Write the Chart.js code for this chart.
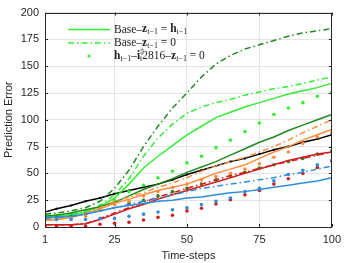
<!DOCTYPE html>
<html><head><meta charset="utf-8">
<script src="https://cdn.jsdelivr.net/npm/chart.js@4/dist/chart.umd.min.js"></script>
<style>html,body{margin:0;padding:0;background:#fff}#wrap{width:347px;height:263px}</style>
</head><body><div id="wrap"><canvas id="c" width="347" height="263"></canvas></div>
<script>
const steps = [1,5,10,15,20,25,30,35,40,45,50,55,60,65,70,75,80,85,90,95,100];
const xTicks = [1,25,50,75,100];
const blackSolid   = [14,17,20,24,27,31,34,37,40,44,49,53,57,61,64,68,72,75,79,82,86];
const dkGreenDash  = [12,13,15,18,24,36,53,75,94,111,125,140,152,160,166,170,174,178,181,183,185];
const brGreenDash  = [11,11,12,14,20,30,45,66,83,96,106,112,116,119,123,126,129,131,134,137,140];
const brGreenSolid = [9,10,11,14,19,27,40,55,66,76,86,94,102,107,112,116,120,124,127,130,134];
const brGreenDots  = [10,11,12,15,20,25,33,39,46,52,60,66,74,81,89,97,105,111,116,122,126];
const dkGreenSolid = [10,11,13,16,19,23,29,35,40,45,51,56,61,67,73,79,84,90,95,100,105];
const dkGreenDots  = [8,9,10,12,18,21,22,25,29,33,36,40,44,48,51,55,58,61,64,68,71];
const orangeSolid  = [6,7,9,12,17,22,26,30,34,37,40,45,50,54,58,64,70,75,81,86,91];
const orangeDash   = [7,7,9,13,18,24,28,32,37,41,46,52,57,61,65,70,75,81,88,94,100];
const orangeDots   = [7,7,8,10,16,21,24,29,33,37,40,44,47,50,54,59,65,70,78,84,88];
const redSolid     = [2,2,2,3,7,12,17,21,26,30,34,38,42,46,50,54,58,62,65,68,70];
const redDash      = [2,2,2,3,8,13,18,23,28,32,36,40,44,48,51,55,58,61,64,67,70];
const redDots      = [1,1,1,1,2.5,3.5,4.5,6.5,9,11,15,17.5,21.5,25.5,30,34,40,45,50,55.5,61.5];
const blueSolid    = [8,9,10,12,15,18,20,22,24,25,27,28,30,32,33,35,37,39,41,43,46];
const blueDash     = [9,9,10,12,15,18,21,24,27,30,33,36,38,40,42,44,46,49,51,54,57];
const blueDots     = [7,7,7,7,8,8,10,12,14,16,18,21,24,27,33,36,43,49,53,58,62];

const C = {blue:'#2e8ddc', orange:'#ff8c3c', red:'#d41c1c', dk:'#1f8a1f', br:'#33ee33', black:'#000000'};
const DASHDOT = [6,3,1.5,3];
function pts(arr){ return steps.map((x,i)=>({x:x,y:arr[i]})); }
function line(arr,color,dash){ return {data:pts(arr),borderColor:color,backgroundColor:color,borderWidth:1.5,borderDash:dash||[],pointRadius:0,tension:0,fill:false}; }
function dots(arr,color){ return {data:pts(arr),showLine:false,borderColor:color,backgroundColor:color,pointRadius:1.8,pointBorderWidth:0,pointStyle:'circle'}; }

const datasets = [
  line(blueSolid,C.blue), line(blueDash,C.blue,DASHDOT), dots(blueDots,C.blue),
  line(redSolid,C.red), line(redDash,C.red,DASHDOT), dots(redDots,C.red),
  line(orangeSolid,C.orange), line(orangeDash,C.orange,DASHDOT), dots(orangeDots,C.orange),
  line(dkGreenSolid,C.dk), line(dkGreenDash,C.dk,DASHDOT), dots(dkGreenDots,C.dk),
  line(brGreenSolid,C.br), line(brGreenDash,C.br,DASHDOT), dots(brGreenDots,C.br),
  Object.assign(line(blackSolid,C.black),{pointRadius:1.4,pointStyle:'rect',pointBorderWidth:0})
];

const SERIF = '"Liberation Serif","DejaVu Serif",serif';
function rich(ctx,x,y,parts){
  for(const [t,s] of parts){
    let dy=0;
    if(s==='sub'){ctx.font='8px '+SERIF;dy=2.8;}
    else if(s==='sup'){ctx.font='8px '+SERIF;dy=-3.8;}
    else if(s==='b'){ctx.font='bold 11.5px '+SERIF;}
    else ctx.font='11.5px '+SERIF;
    ctx.fillText(t,x,y+dy);
    if(s!=='sup') x+=ctx.measureText(t).width;
  }
}
const legendPlugin = {
  id:'leg',
  afterDatasetsDraw(chart){
    const ctx=chart.ctx, a=chart.chartArea;
    ctx.save();
    ctx.strokeStyle='#262626'; ctx.lineWidth=1;
    ctx.strokeRect(Math.round(a.left)+0.5,Math.round(a.top)+0.5,Math.round(a.right-a.left)-1,Math.round(a.bottom-a.top));
    const xs=chart.scales.x, ys=chart.scales.y;
    ctx.beginPath();
    xTicks.forEach(v=>{const p=Math.round(xs.getPixelForValue(v))+0.5; ctx.moveTo(p,a.bottom); ctx.lineTo(p,a.bottom-3); ctx.moveTo(p,a.top); ctx.lineTo(p,a.top+3);});
    for(let v=0;v<=200;v+=25){const p=Math.round(ys.getPixelForValue(v))+0.5; ctx.moveTo(a.left,p); ctx.lineTo(a.left+3,p); ctx.moveTo(a.right,p); ctx.lineTo(a.right-3,p);}
    ctx.stroke();
    const rows=[29.5,43,56];
    ctx.strokeStyle=C.br; ctx.lineWidth=1.5;
    ctx.beginPath(); ctx.setLineDash([]); ctx.moveTo(68,rows[0]); ctx.lineTo(110,rows[0]); ctx.stroke();
    ctx.beginPath(); ctx.setLineDash(DASHDOT); ctx.moveTo(68,rows[1]); ctx.lineTo(110,rows[1]); ctx.stroke();
    ctx.setLineDash([]);
    ctx.fillStyle=C.br; ctx.beginPath(); ctx.arc(89,rows[2],1.6,0,Math.PI*2); ctx.fill();
    ctx.fillStyle='#222'; ctx.textBaseline='middle'; ctx.textAlign='left';
    rich(ctx,114,rows[0],[['Base–','n'],['z','b'],['t−1','sub'],[' = ','n'],['h','b'],['t−1','sub']]);
    rich(ctx,114,rows[1],[['Base–','n'],['z','b'],['t−1','sub'],[' = 0','n']]);
    rich(ctx,114,rows[2],[['h','b'],['t−1','sub'],['–','n'],['i','b'],['‡','sup'],['t','sub'],['2816–','n'],['z','b'],['t−1','sub'],[' = 0','n']]);
    ctx.restore();
  }
};

const SANS = '"Liberation Sans", Arial, sans-serif';
new Chart(document.getElementById('c'),{
  type:'line',
  data:{datasets},
  options:{
    responsive:false, animation:false, devicePixelRatio:1,
    layout:{padding:{top:7,right:12,left:0,bottom:0}},
    plugins:{legend:{display:false},tooltip:{enabled:false}},
    scales:{
      x:{type:'linear',min:1,max:100,
        afterBuildTicks(s){s.ticks=xTicks.map(v=>({value:v}));},
        afterFit(s){s.height=36;},
        grid:{color:'#e4e4e4',drawTicks:false},border:{display:false},
        ticks:{padding:6,color:'#262626',font:{family:SANS,size:11},maxRotation:0,autoSkip:false},
        title:{display:true,text:'Time-steps',color:'#262626',font:{family:SANS,size:11},padding:{top:2,bottom:0}}},
      y:{min:0,max:200,
        afterFit(s){s.width=45;},
        grid:{color:'#e4e4e4',drawTicks:false},border:{display:false},
        ticks:{stepSize:25,padding:6,color:'#262626',font:{family:SANS,size:11}},
        title:{display:true,text:'Prediction Error',color:'#262626',font:{family:SANS,size:11},padding:{top:2,bottom:0}}}
    }
  },
  plugins:[legendPlugin]
});
</script></body></html>
